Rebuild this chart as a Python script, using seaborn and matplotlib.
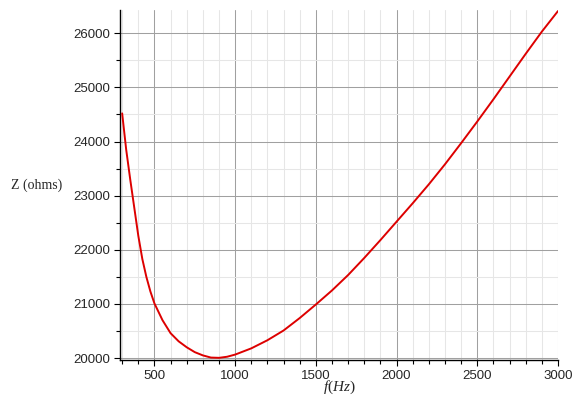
import numpy as np
import pandas as pd
import seaborn as sns
import matplotlib.pyplot as plt
from matplotlib.ticker import MultipleLocator

# values
freq_hz = [300, 325, 350, 375, 400, 425, 450, 475, 500, 550, 600, 650, 700, 750, 800, 850,
           900, 950, 1000, 1100, 1200, 1300, 1400, 1500, 1600, 1700, 1800, 1900, 2000,
           2100, 2200, 2300, 2400, 2500, 2600, 2700, 2800, 2900, 3000]
z_ohms = [24520, 23850, 23300, 22780, 22260, 21830, 21500, 21230, 21010, 20700, 20460,
          20310, 20200, 20110, 20050, 20010, 20005, 20025, 20065, 20180, 20330, 20510,
          20740, 20990, 21250, 21535, 21850, 22180, 22520, 22860, 23210, 23580, 23970,
          24370, 24780, 25200, 25620, 26030, 26410]

data = pd.DataFrame({'f': freq_hz, 'Z': z_ohms})

sns.set_style("white")
plt.rcParams['font.family'] = ['Liberation Sans', 'DejaVu Sans']
plt.rcParams['mathtext.fontset'] = 'custom'
plt.rcParams['mathtext.it'] = 'Liberation Serif:italic'
plt.rcParams['mathtext.rm'] = 'Liberation Serif'

fig = plt.figure(figsize=(5.8, 4), dpi=100)
ax = fig.add_axes([0.207, 0.1, 0.755, 0.875])

sns.lineplot(data=data, x='f', y='Z', color='#dd0000', linewidth=1.4, ax=ax, zorder=5)

ax.set_xlim(287, 3000)
ax.set_ylim(19965, 26430)
ax.xaxis.set_major_locator(MultipleLocator(500))
ax.xaxis.set_minor_locator(MultipleLocator(100))
ax.yaxis.set_major_locator(MultipleLocator(1000))
ax.yaxis.set_minor_locator(MultipleLocator(500))
ax.grid(which='major', color='#a0a0a0', linewidth=0.75)
ax.grid(which='minor', color='#e6e6e6', linewidth=0.75)
ax.set_axisbelow(True)

for side in ['top', 'right']:
    ax.spines[side].set_visible(False)
for side in ['left', 'bottom']:
    ax.spines[side].set_color('black')
    ax.spines[side].set_linewidth(1.0)

ax.tick_params(which='major', direction='out', length=4, width=0.8, color='black',
               left=True, bottom=True, labelsize=9.5, pad=3)
ax.tick_params(which='minor', direction='out', length=3, width=0.8, color='black',
               left=True, bottom=True)
ax.set_xticks([500, 1000, 1500, 2000, 2500, 3000])

ax.set_xlabel('$f(Hz)$', fontsize=11, labelpad=-2)
ax.set_ylabel('Z (ohms)', rotation=0, fontsize=10, va='center', ha='center',
              family=['Liberation Serif', 'DejaVu Serif'])
ax.yaxis.set_label_coords(-0.19, 0.5)

plt.savefig('out.png', dpi=100)
